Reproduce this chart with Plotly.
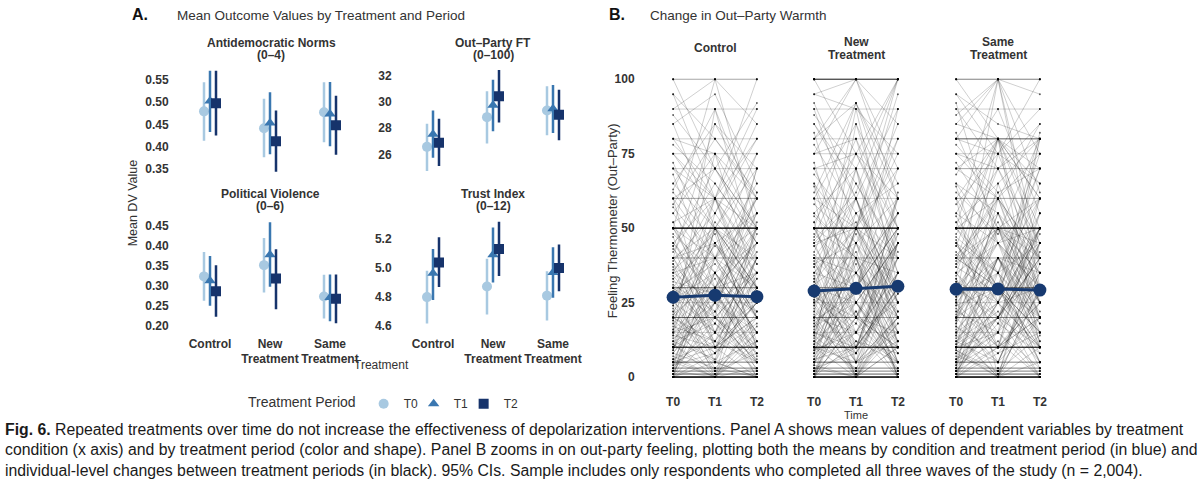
import plotly.graph_objects as go

# ---------------- Panel A data ----------------
groups = ["Control", "New<br>Treatment", "Same<br>Treatment"]
periods = ["T0", "T1", "T2"]
period_colors = ["#a8c9e1", "#3a77b0", "#16336b"]
period_symbols = ["circle", "triangle-up", "square"]

# rows = period (T0, T1, T2), columns = group (Control, New, Same)
adn_mean = [[0.479, 0.441, 0.477], [0.502, 0.453, 0.473], [0.497, 0.412, 0.448]]
adn_lo = [[0.413, 0.376, 0.410], [0.433, 0.383, 0.401], [0.425, 0.344, 0.382]]
adn_hi = [[0.544, 0.507, 0.544], [0.570, 0.522, 0.545], [0.570, 0.481, 0.514]]

ft_mean = [[26.58, 28.85, 29.35], [27.55, 29.75, 29.50], [26.90, 30.45, 29.03]]
ft_lo = [[24.74, 26.83, 27.46], [25.75, 27.77, 27.64], [25.12, 28.45, 27.08]]
ft_hi = [[28.35, 30.82, 31.20], [29.36, 31.70, 31.30], [28.72, 32.45, 30.95]]

pv_mean = [[0.323, 0.351, 0.273], [0.312, 0.377, 0.270], [0.286, 0.318, 0.267]]
pv_lo = [[0.262, 0.283, 0.218], [0.250, 0.297, 0.211], [0.222, 0.241, 0.206]]
pv_hi = [[0.384, 0.419, 0.327], [0.374, 0.458, 0.328], [0.351, 0.391, 0.328]]

ti_mean = [[4.800, 4.873, 4.810], [4.963, 5.090, 4.968], [5.038, 5.130, 5.000]]
ti_lo = [[4.620, 4.680, 4.640], [4.780, 4.900, 4.795], [4.870, 4.944, 4.840]]
ti_hi = [[4.980, 5.063, 4.977], [5.130, 5.277, 5.141], [5.210, 5.317, 5.161]]

# ---------------- Panel B data ----------------
b_facets = [["Control"], ["New", "Treatment"], ["Same", "Treatment"]]
b_times = ["T0", "T1", "T2"]
ctrl_means = [26.8, 27.5, 27.0]
new_means = [28.9, 29.8, 30.5]
same_means = [29.5, 29.6, 29.2]

# individual respondents (T0, T1, T2) – a readable sample of the spaghetti
ctrl_paths = [
    [0, 15, 5], [5, 0, 20], [10, 30, 15], [20, 10, 40], [30, 50, 25], [40, 20, 35], [50, 30, 60],
    [60, 40, 50], [25, 50, 10], [15, 5, 30], [35, 60, 40], [45, 25, 55], [70, 50, 40], [80, 60, 90],
    [100, 70, 50], [90, 100, 85], [65, 85, 70], [55, 75, 60], [2, 20, 8], [8, 3, 0], [12, 35, 20],
    [18, 0, 12], [22, 40, 30], [28, 15, 50], [33, 45, 20], [38, 10, 25], [42, 65, 45], [48, 35, 15],
    [52, 20, 70], [58, 80, 62], [62, 45, 30], [68, 30, 55], [75, 55, 80], [85, 95, 65], [95, 60, 100],
    [3, 50, 10], [6, 12, 45], [14, 60, 25], [16, 28, 5], [24, 8, 18], [27, 52, 38], [31, 22, 62],
    [36, 48, 12], [44, 70, 50], [47, 15, 33], [1, 30, 2], [4, 8, 25], [9, 40, 60], [11, 2, 15],
    [13, 22, 0], [19, 45, 28], [21, 33, 7], [26, 5, 40], [29, 38, 22], [34, 18, 48], [39, 55, 35],
    [43, 28, 10], [57, 40, 75], [63, 90, 55], [72, 40, 65], [78, 65, 45], [88, 70, 92], [20, 75, 30],
    [10, 55, 85], [50, 100, 50], [40, 85, 60], [30, 0, 35], [60, 10, 20], [15, 90, 40], [5, 25, 70],
    [0, 5, 12], [3, 18, 6], [7, 0, 3], [10, 20, 5], [0, 8, 25], [15, 25, 10], [20, 12, 30],
    [5, 35, 15], [25, 15, 2], [30, 20, 10], [12, 6, 40], [18, 30, 22], [0, 40, 20], [8, 25, 50],
    [22, 2, 8], [35, 25, 15], [40, 50, 30], [2, 0, 10], [14, 10, 0], [28, 40, 20], [45, 30, 50],
    [0, 0, 15], [10, 10, 30], [20, 20, 5], [30, 30, 45], [5, 5, 0], [50, 50, 30], [16, 45, 55],
    [24, 60, 20], [6, 30, 35], [0, 25, 0], [11, 0, 22], [33, 12, 5], [19, 8, 50], [40, 15, 25],
    [9, 50, 35], [26, 35, 60], [4, 15, 40], [37, 5, 0], [50, 40, 10],
    [55, 35, 45], [65, 50, 75], [45, 60, 30], [35, 40, 55], [25, 30, 45], [15, 20, 35], [5, 10, 25],
    [75, 60, 50], [85, 50, 70], [95, 80, 60], [0, 50, 30], [10, 25, 45], [20, 35, 15], [30, 15, 40],
    [40, 45, 20], [50, 25, 35], [60, 70, 45], [70, 60, 80], [80, 75, 50], [12, 18, 3], [23, 3, 17],
    [8, 28, 12], [17, 12, 33], [27, 44, 29], [38, 22, 42], [2, 35, 5], [44, 10, 20], [52, 60, 38],
    [6, 0, 52], [32, 28, 8],
]
new_paths = [
    [0, 20, 10], [5, 30, 0], [10, 0, 25], [20, 45, 15], [30, 10, 50], [40, 60, 30], [50, 25, 45],
    [60, 85, 55], [70, 40, 80], [80, 92, 60], [90, 50, 95], [100, 75, 100], [85, 65, 40], [75, 100, 70],
    [65, 30, 20], [55, 70, 35], [45, 15, 5], [35, 55, 65], [25, 5, 40], [15, 40, 0], [2, 10, 30],
    [8, 50, 12], [12, 3, 20], [18, 30, 50], [22, 60, 25], [28, 12, 8], [32, 50, 40], [38, 20, 60],
    [42, 75, 50], [48, 35, 15], [52, 10, 30], [58, 45, 75], [62, 92, 50], [68, 50, 85], [72, 25, 45],
    [78, 55, 30], [88, 70, 100], [95, 100, 60], [4, 0, 15], [6, 22, 2], [9, 15, 35], [11, 38, 5],
    [14, 2, 18], [17, 25, 45], [21, 0, 10], [24, 48, 20], [27, 18, 55], [31, 42, 12], [34, 8, 28],
    [37, 65, 42], [41, 30, 70], [44, 52, 22], [47, 80, 35], [1, 45, 5], [3, 8, 60], [13, 70, 25],
    [19, 28, 90], [26, 90, 30], [33, 0, 45], [39, 5, 20], [46, 62, 100], [54, 40, 10], [64, 20, 48],
    [82, 35, 55], [92, 60, 20], [15, 50, 100], [50, 92, 65], [30, 70, 10], [10, 85, 40], [60, 5, 35],
    [0, 12, 5], [3, 0, 18], [7, 25, 2], [10, 5, 20], [0, 30, 10], [15, 8, 35], [20, 35, 12],
    [5, 15, 45], [25, 40, 5], [30, 5, 15], [12, 50, 30], [18, 0, 22], [0, 20, 50], [8, 40, 0],
    [22, 10, 28], [35, 50, 20], [40, 10, 45], [2, 15, 0], [14, 30, 8], [28, 0, 35], [45, 60, 25],
    [0, 0, 20], [10, 10, 40], [20, 20, 0], [30, 30, 60], [5, 5, 12], [50, 50, 80], [16, 55, 40],
    [24, 5, 62], [6, 45, 20], [0, 35, 0], [11, 22, 3], [33, 60, 15], [19, 2, 45], [40, 25, 5],
    [9, 30, 55], [26, 15, 35], [4, 50, 25], [37, 0, 10], [50, 20, 40],
    [55, 40, 35], [65, 45, 60], [45, 50, 25], [35, 30, 50], [25, 35, 20], [15, 10, 30], [5, 20, 15],
    [75, 80, 50], [85, 60, 90], [95, 90, 75], [0, 40, 15], [10, 30, 50], [20, 15, 40], [30, 25, 5],
    [40, 35, 55], [50, 40, 25], [60, 50, 70], [70, 75, 60], [80, 100, 85], [12, 25, 8], [23, 8, 30],
    [8, 18, 5], [17, 35, 22], [27, 20, 45], [38, 45, 30], [2, 25, 12], [44, 20, 10], [52, 75, 45],
    [6, 10, 48], [32, 15, 25],
]
same_paths = [
    [0, 10, 20], [5, 25, 0], [10, 40, 15], [20, 5, 35], [30, 50, 20], [40, 30, 55], [50, 60, 40],
    [60, 35, 70], [70, 80, 60], [80, 100, 75], [90, 70, 80], [100, 80, 50], [85, 100, 95], [75, 60, 85],
    [65, 45, 30], [55, 80, 60], [45, 20, 10], [35, 70, 45], [25, 0, 50], [15, 35, 5], [2, 18, 8],
    [8, 0, 30], [12, 30, 10], [18, 55, 25], [22, 15, 42], [28, 40, 20], [32, 10, 60], [38, 62, 30],
    [42, 25, 48], [48, 70, 38], [52, 30, 15], [58, 75, 65], [62, 48, 80], [68, 90, 55], [72, 50, 40],
    [78, 62, 70], [88, 100, 62], [95, 75, 100], [4, 12, 0], [6, 40, 22], [9, 2, 14], [11, 20, 45],
    [14, 50, 12], [17, 8, 28], [21, 45, 30], [24, 30, 5], [27, 60, 35], [31, 18, 50], [34, 52, 25],
    [37, 28, 65], [41, 55, 20], [44, 80, 45], [47, 35, 75], [1, 30, 3], [3, 60, 20], [13, 25, 80],
    [19, 75, 40], [26, 100, 30], [33, 5, 40], [39, 80, 10], [46, 10, 55], [54, 30, 82], [64, 25, 50],
    [82, 50, 35], [92, 45, 60], [20, 80, 25], [50, 100, 40], [35, 15, 80], [10, 65, 30], [60, 0, 45],
    [0, 8, 15], [3, 20, 0], [7, 2, 25], [10, 15, 3], [0, 25, 30], [15, 0, 20], [20, 30, 8],
    [5, 40, 12], [25, 10, 45], [30, 45, 20], [12, 5, 35], [18, 40, 10], [0, 50, 25], [8, 20, 55],
    [22, 35, 5], [35, 20, 40], [40, 60, 25], [2, 10, 20], [14, 0, 5], [28, 50, 30], [45, 25, 60],
    [0, 0, 10], [10, 10, 25], [20, 20, 45], [30, 30, 10], [5, 5, 20], [50, 50, 60], [16, 30, 50],
    [24, 50, 15], [6, 20, 40], [0, 15, 0], [11, 40, 18], [33, 10, 25], [19, 55, 30], [40, 30, 70],
    [9, 0, 30], [26, 45, 10], [4, 25, 50], [37, 60, 40], [50, 30, 20],
    [55, 45, 50], [65, 55, 40], [45, 35, 60], [35, 45, 25], [25, 40, 35], [15, 25, 10], [5, 15, 30],
    [75, 70, 85], [85, 80, 70], [95, 85, 80], [0, 35, 20], [10, 20, 40], [20, 40, 25], [30, 20, 50],
    [40, 50, 35], [50, 35, 45], [60, 80, 65], [70, 60, 75], [80, 75, 90], [12, 22, 5], [23, 10, 28],
    [8, 30, 15], [17, 5, 38], [27, 35, 18], [38, 50, 45], [2, 20, 35], [44, 30, 15], [52, 65, 80],
    [6, 15, 50], [32, 25, 10],
]
# respondents giving the same answer in all three waves: value and count per facet
stay_vals = [0, 1, 2, 3, 5, 10, 15, 20, 25, 30, 40, 50, 60, 70, 75, 80, 90, 100]
ctrl_stay_n = [14, 4, 3, 3, 3, 8, 1, 3, 1, 3, 2, 12, 2, 1, 1, 1, 1, 2]
new_stay_n = [14, 4, 3, 3, 3, 9, 1, 2, 1, 2, 2, 12, 1, 1, 1, 1, 1, 7]
same_stay_n = [14, 4, 3, 3, 3, 9, 1, 3, 1, 4, 2, 12, 2, 2, 1, 4, 1, 3]

W, H = 1200, 503
FONT = "Liberation Sans, Arial, sans-serif"
TXT = "#333333"
NAVY = "#173a70"


def fx(p):
    return p / W


def fy(p):
    return 1 - p / H


fig = go.Figure()

# ---------- Panel A: point ranges ----------
panels_a = [
    (adn_mean, adn_lo, adn_hi, "x", "y"),
    (ft_mean, ft_lo, ft_hi, "x2", "y2"),
    (pv_mean, pv_lo, pv_hi, "x3", "y3"),
    (ti_mean, ti_lo, ti_hi, "x4", "y4"),
]
offsets = [-0.1, 0.0, 0.1]
for k, (mean, lo, hi, xa, ya) in enumerate(panels_a):
    for p in range(3):
        fig.add_trace(go.Scatter(
            x=[g + 1 + offsets[p] for g in range(3)],
            y=mean[p],
            mode="markers",
            marker=dict(symbol=period_symbols[p], size=10, color=period_colors[p]),
            error_y=dict(type="data", symmetric=False,
                         array=[h - m for h, m in zip(hi[p], mean[p])],
                         arrayminus=[m - l for m, l in zip(mean[p], lo[p])],
                         color=period_colors[p], thickness=2.5, width=0),
            name=periods[p], legendgroup=periods[p], showlegend=(k == 0),
            xaxis=xa, yaxis=ya,
        ))
# blank entry so the last legend label is not clipped
fig.add_trace(go.Scatter(x=[None], y=[None], mode="markers", name=" ",
                         marker=dict(color="rgba(0,0,0,0)", size=1,
                                     line=dict(width=0, color="rgba(0,0,0,0)")),
                         showlegend=True, hoverinfo="skip"))

# ---------- Panel B: spaghetti + means ----------
panels_b = [
    (ctrl_paths, ctrl_stay_n, ctrl_means, "x5", "y5"),
    (new_paths, new_stay_n, new_means, "x6", "y6"),
    (same_paths, same_stay_n, same_means, "x7", "y7"),
]
for paths, stay_n, means, xa, ya in panels_b:
    all_paths = list(paths)
    for v, n in zip(stay_vals, stay_n):
        all_paths += [[v, v, v]] * n
    lx, ly = [], []
    for path in all_paths:
        lx += [0, 1, 2, None]
        ly += list(path) + [None]
    fig.add_trace(go.Scatter(x=lx, y=ly, mode="lines",
                             line=dict(color="rgba(0,0,0,0.19)", width=1),
                             showlegend=False, hoverinfo="skip", xaxis=xa, yaxis=ya))
    px_, py_ = [], []
    for path in all_paths:
        px_ += [0, 1, 2]
        py_ += list(path)
    fig.add_trace(go.Scatter(x=px_, y=py_, mode="markers",
                             marker=dict(symbol="circle", size=2, color="rgba(0,0,0,0.6)",
                                         line=dict(width=0)),
                             showlegend=False, hoverinfo="skip", xaxis=xa, yaxis=ya))
    fig.add_trace(go.Scatter(x=[0, 1, 2], y=means, mode="lines+markers",
                             line=dict(color=NAVY, width=3),
                             marker=dict(size=13, color=NAVY),
                             showlegend=False, xaxis=xa, yaxis=ya))

tick_font = dict(family=FONT, size=12, color=TXT, weight="bold")
base_ax = dict(showgrid=False, zeroline=False, showline=False, tickfont=tick_font)


def xa_a(left, right, show):
    return dict(base_ax, domain=[fx(left), fx(right)], range=[0.5, 3.5],
                tickvals=[1, 2, 3], ticktext=groups, showticklabels=show,
                ticks="outside", ticklen=3, tickcolor="rgba(0,0,0,0)")


def ya_a(top, bottom, rng, vals, fmt, anchor):
    return dict(base_ax, domain=[fy(bottom), fy(top)], range=rng, tickvals=vals,
                tickformat=fmt, anchor=anchor, ticks="outside", ticklen=8,
                tickcolor="rgba(0,0,0,0)")


def xa_b(left, right, anchor):
    return dict(base_ax, domain=[fx(left), fx(right)], range=[-0.17, 2.17],
                tickvals=[0, 1, 2], ticktext=b_times, anchor=anchor,
                ticks="outside", ticklen=4, tickcolor="rgba(0,0,0,0)")


def ya_b(anchor, show):
    return dict(base_ax, domain=[fy(390), fy(70)], range=[-3.3, 103.3],
                tickvals=[0, 25, 50, 75, 100], showticklabels=show, anchor=anchor,
                ticks="outside", ticklen=28, tickcolor="rgba(0,0,0,0)")


fig.update_layout(
    width=W, height=H,
    margin=dict(l=0, r=0, t=0, b=0),
    paper_bgcolor="white", plot_bgcolor="white",
    font=dict(family=FONT, color=TXT),
    xaxis=dict(xa_a(180, 360, False), anchor="y"),
    yaxis=ya_a(66, 178, [0.3329, 0.5818], [0.35, 0.40, 0.45, 0.50, 0.55], ".2f", "x"),
    xaxis2=dict(xa_a(403, 583, False), anchor="y2"),
    yaxis2=ya_a(66, 178, [24.31, 32.795], [26, 28, 30, 32], "d", "x2"),
    xaxis3=dict(xa_a(180, 360, True), anchor="y3"),
    yaxis3=ya_a(218, 332, [0.1908, 0.473], [0.20, 0.25, 0.30, 0.35, 0.40, 0.45], ".2f", "x3"),
    xaxis4=dict(xa_a(403, 583, True), anchor="y4"),
    yaxis4=ya_a(218, 332, [4.579, 5.354], [4.6, 4.8, 5.0, 5.2], ".1f", "x4"),
    xaxis5=xa_b(666, 764, "y5"),
    yaxis5=ya_b("x5", True),
    xaxis6=xa_b(807, 905, "y6"),
    yaxis6=ya_b("x6", False),
    xaxis7=xa_b(949, 1047, "y7"),
    yaxis7=ya_b("x7", False),
    legend=dict(orientation="h", x=fx(246), y=fy(407), xanchor="left", yanchor="middle",
                title=dict(text="Treatment Period", font=dict(size=14, color=TXT)),
                font=dict(size=12, color=TXT), itemwidth=30, entrywidth=5,
                entrywidthmode="pixels", bgcolor="rgba(0,0,0,0)"),
)

ann = []


def note(x, y, text, size=12, bold=False, color=TXT, xanchor="center", angle=0):
    ann.append(dict(x=fx(x), y=fy(y), xref="paper", yref="paper", text=text,
                    showarrow=False, xanchor=xanchor, yanchor="middle", textangle=angle,
                    font=dict(family=FONT, size=size, color=color,
                              weight="bold" if bold else "normal")))


note(130, 15, "A.", size=16, bold=True, color="#111111", xanchor="left")
note(175, 16, "Mean Outcome Values by Treatment and Period", size=13.5, xanchor="left")
note(607, 15, "B.", size=16, bold=True, color="#111111", xanchor="left")
note(648, 16, "Change in Out–Party Warmth", size=13.5, xanchor="left")

# facet strips (two tight lines each)
note(271, 43, "Antidemocratic Norms", bold=True)
note(271, 55, "(0–4)", bold=True)
note(493, 43, "Out–Party FT", bold=True)
note(493, 55, "(0–100)", bold=True)
note(270, 196, "Political Violence", bold=True)
note(270, 208, "(0–6)", bold=True)
note(493, 196, "Trust Index", bold=True)
note(493, 208, "(0–12)", bold=True)
note(133, 205, "Mean DV Value", size=12.5, angle=-90)
note(381, 368, "Treatment", size=12)

for cx, lines in zip([715, 857, 998], b_facets):
    if len(lines) == 1:
        note(cx, 48, lines[0], bold=True)
    else:
        note(cx, 42, lines[0], bold=True)
        note(cx, 55, lines[1], bold=True)
note(612, 223, "Feeling Thermometer (Out–Party)", size=13, angle=-90)
note(856, 418, "Time", size=11)

caption = [
    "<b>Fig. 6.</b> Repeated treatments over time do not increase the effectiveness of depolarization "
    "interventions. Panel A shows mean values of dependent variables by treatment",
    "condition (x axis) and by treatment period (color and shape). Panel B zooms in on out-party feeling, "
    "plotting both the means by condition and treatment period (in blue) and",
    "individual-level changes between treatment periods (in black). 95% CIs. Sample includes only "
    "respondents who completed all three waves of the study (n = 2,004).",
]
for i, line in enumerate(caption):
    note(3, 433 + 20.5 * i, line, size=15.8, color="#1a1a1a", xanchor="left")

fig.update_layout(annotations=ann)
# the page body has a default 8px margin; drop it so the figure sits at the window origin
fig.write_html("out.html", config={"displayModeBar": False},
               post_script="document.body.style.margin='0px';")
